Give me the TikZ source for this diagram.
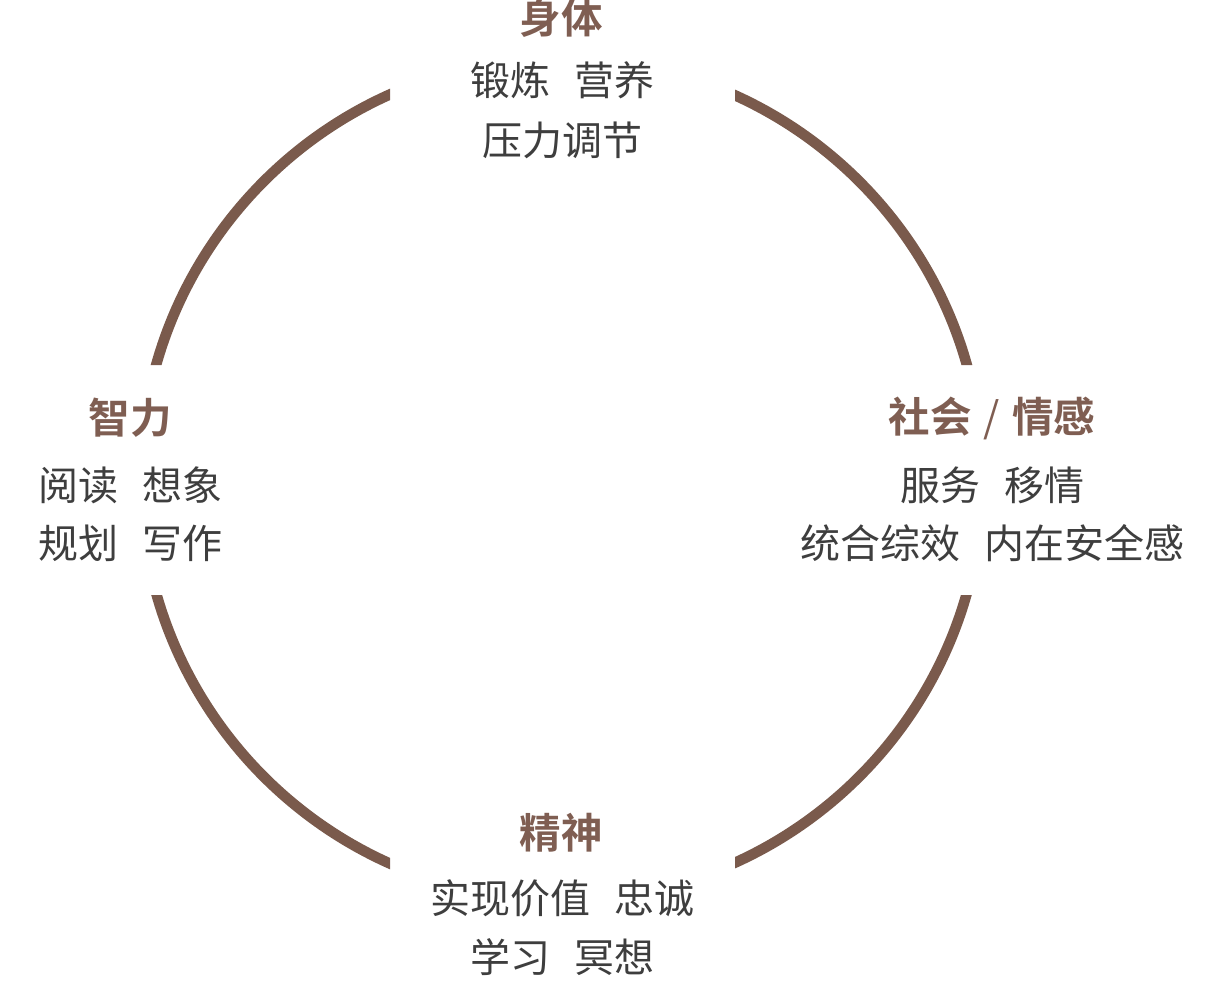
\documentclass[tikz,border=0pt]{standalone}
\usepackage{fontspec}
\setmainfont{Noto Sans CJK SC}
\newfontfamily\cjkbold{Noto Sans CJK SC Bold}
\definecolor{arcbrown}{HTML}{7A5A4C}
\definecolor{titlebrown}{HTML}{7F5E52}
\definecolor{bodygray}{HTML}{3E3E3E}
\tikzset{
  ring/.style={draw=arcbrown, line width=10.5pt},
  title/.style={text=titlebrown, font=\cjkbold\fontsize{41.5}{48}\selectfont, inner sep=0pt, anchor=center},
  body/.style={text=bodygray, font=\fontsize{40}{48}\selectfont, inner sep=0pt, anchor=center},
}
\newcommand{\gapsp}{\hspace{24pt}}
\begin{document}
\begin{tikzpicture}[x=1pt,y=-1pt]
\useasboundingbox (0,0) rectangle (1222,982);
\begin{scope}[even odd rule]
  \clip (0,0) rectangle (1222,982)
    (390,0) rectangle (735,200)
    (390,780) rectangle (735,982)
    (0,365) rectangle (300,595)
    (900,365) rectangle (1222,595);
  \coordinate (c) at (561.5,479);
  \draw[ring] (c) circle[radius=421];
\end{scope}
% top
\node[title] (t1) at (561,18) {身体};
\node[body] (t2) at (562,80) {锻炼\gapsp 营养};
\node[body] (t3) at (562,140) {压力调节};
% left
\node[title] (l1) at (130,418) {智力};
\node[body] (l2) at (130,485) {阅读\gapsp 想象};
\node[body] (l3) at (130,543) {规划\gapsp 写作};
% right
\node[title] (r1) at (992,418) {社会\hspace{12pt}{\fontspec{Noto Sans CJK SC}/}\hspace{12pt}情感};
\node[body] (r2) at (992,485) {服务\gapsp 移情};
\node[body] (r3) at (992,543) {统合综效\gapsp 内在安全感};
% bottom
\node[title] (b1) at (561,833) {精神};
\node[body] (b2) at (562,898) {实现价值\gapsp 忠诚};
\node[body] (b3) at (562,957) {学习\gapsp 冥想};
\end{tikzpicture}
\end{document}
